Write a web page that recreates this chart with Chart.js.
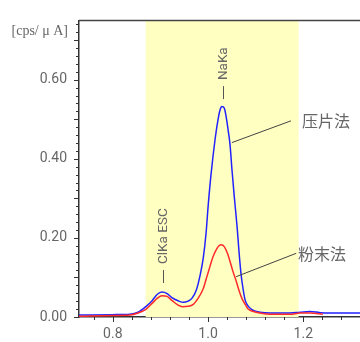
<!DOCTYPE html>
<html lang="ja">
<head>
<meta charset="UTF-8">
<title>NaKa spectrum</title>
<script src="https://cdn.jsdelivr.net/npm/chart.js@4"></script>
<style>
  html, body { margin: 0; padding: 0; background: #fff; }
  .chart-container { position: relative; width: 360px; height: 342px; }
</style>
</head>
<body>
<div class="chart-container"><canvas id="spectrumChart"></canvas></div>
<script>
// energy [keV] / intensity [cps/uA]
const pressedX = [0.729, 0.80, 0.836, 0.853, 0.870, 0.883, 0.893, 0.903, 0.914, 0.924, 0.937, 0.948,
  0.958, 0.966, 0.975, 0.983, 0.990, 0.996, 1.000, 1.006, 1.015, 1.021, 1.025, 1.029, 1.034, 1.038,
  1.042, 1.046, 1.050, 1.055, 1.061, 1.065, 1.069, 1.074, 1.078, 1.086, 1.094, 1.109, 1.130, 1.172,
  1.193, 1.214, 1.235, 1.256, 1.319];
const pressedY = [0.005, 0.006, 0.007, 0.012, 0.027, 0.042, 0.057, 0.063, 0.059, 0.049, 0.041, 0.037,
  0.040, 0.047, 0.067, 0.104, 0.150, 0.215, 0.278, 0.358, 0.452, 0.500, 0.523, 0.532, 0.528, 0.506,
  0.474, 0.437, 0.375, 0.305, 0.227, 0.165, 0.111, 0.067, 0.042, 0.025, 0.017, 0.012, 0.010, 0.010,
  0.012, 0.014, 0.011, 0.010, 0.010];

const powderX = [0.729, 0.80, 0.836, 0.853, 0.870, 0.883, 0.893, 0.903, 0.914, 0.924, 0.937, 0.946,
  0.958, 0.969, 0.979, 0.990, 0.998, 1.004, 1.010, 1.017, 1.023, 1.028, 1.034, 1.040, 1.046, 1.052,
  1.059, 1.065, 1.071, 1.078, 1.084, 1.092, 1.109, 1.130, 1.172, 1.193, 1.214, 1.241];
const powderY = [0.002, 0.004, 0.005, 0.010, 0.020, 0.035, 0.047, 0.054, 0.052, 0.042, 0.030, 0.026,
  0.027, 0.032, 0.047, 0.072, 0.104, 0.128, 0.151, 0.170, 0.180, 0.183, 0.178, 0.163, 0.141, 0.116,
  0.091, 0.067, 0.047, 0.032, 0.020, 0.015, 0.010, 0.007, 0.007, 0.010, 0.010, 0.007];

const seriesNames = ['压片法', '粉末法'];
const xTickValues = [0.8, 1.0, 1.2];
const yTickValues = [0, 0.2, 0.4, 0.6];
const bandRange = [0.869, 1.19];   // highlighted window
const peakNames = ['NaKa', 'ClKa ESC'];
const yUnit = '[cps/ μ A]';

// annotation placement (data coordinates)
const notes = {
  peaks: [{ x: 1.0315, y: 0.551 }, { x: 0.905, y: 0.086 }],
  callouts: [
    { from: { x: 1.050, y: 0.441 }, to: { x: 1.174, y: 0.496 }, text: { x: 1.197, y: 0.496 } },
    { from: { x: 1.059, y: 0.102 }, to: { x: 1.185, y: 0.161 }, text: { x: 1.189, y: 0.159 } }
  ]
};

const toPoints = (xs, ys) => xs.map((x, i) => ({ x: x, y: ys[i] }));

const bandPlugin = {
  id: 'band',
  beforeDatasetsDraw(chart) {
    const { ctx, chartArea, scales: { x } } = chart;
    const x0 = x.getPixelForValue(bandRange[0]);
    const x1 = x.getPixelForValue(bandRange[1]);
    ctx.save();
    ctx.fillStyle = '#ffffc2';
    ctx.fillRect(x0, chartArea.top, x1 - x0, chartArea.bottom - chartArea.top);
    ctx.restore();
  }
};

const decorPlugin = {
  id: 'decor',
  afterDraw(chart) {
    const { ctx, chartArea, scales: { x, y } } = chart;
    ctx.save();
    ctx.strokeStyle = '#333';
    ctx.lineWidth = 1;
    // minor / major tick marks
    for (let i = 0; i <= 37; i++) {
      const py = Math.round(y.getPixelForValue(i * 0.02)) + 0.5;
      const len = i % 5 === 0 ? 5 : 3;
      ctx.beginPath();
      ctx.moveTo(chartArea.left - len, py);
      ctx.lineTo(chartArea.left, py);
      ctx.stroke();
    }
    for (let i = 18; i <= 33; i++) {
      const v = i * 0.04;
      if (v < x.min || v > x.max) continue;
      const px = Math.round(x.getPixelForValue(v)) + 0.5;
      const len = i % 5 === 0 ? 5 : 3;
      ctx.beginPath();
      ctx.moveTo(px, chartArea.bottom);
      ctx.lineTo(px, chartArea.bottom + len);
      ctx.stroke();
    }
    // top frame line
    ctx.strokeStyle = '#444';
    ctx.lineWidth = 1.5;
    ctx.beginPath();
    ctx.moveTo(chartArea.left, chartArea.top);
    ctx.lineTo(chartArea.right, chartArea.top);
    ctx.stroke();

    // unit label
    ctx.fillStyle = '#666';
    ctx.font = '14px "Liberation Serif"';
    ctx.textAlign = 'right';
    ctx.textBaseline = 'middle';
    ctx.fillText(yUnit, chartArea.left - 11, chartArea.top + 11);

    // peak labels, rotated, with a leader dash
    ctx.font = '13.5px Roboto';
    ctx.textAlign = 'left';
    ctx.strokeStyle = '#555';
    ctx.lineWidth = 1;
    notes.peaks.forEach((p, i) => {
      ctx.save();
      ctx.translate(Math.round(x.getPixelForValue(p.x)) + 0.5, y.getPixelForValue(p.y));
      ctx.rotate(-Math.PI / 2);
      ctx.beginPath();
      ctx.moveTo(0, 0);
      ctx.lineTo(13, 0);
      ctx.stroke();
      ctx.fillText(peakNames[i], 19, 0.5);
      ctx.restore();
    });

    // callouts
    ctx.strokeStyle = '#444';
    ctx.lineWidth = 1;
    ctx.font = '16px "Noto Sans CJK SC"';
    notes.callouts.forEach((c, i) => {
      ctx.beginPath();
      ctx.moveTo(x.getPixelForValue(c.from.x), y.getPixelForValue(c.from.y));
      ctx.lineTo(x.getPixelForValue(c.to.x), y.getPixelForValue(c.to.y));
      ctx.stroke();
      ctx.fillText(seriesNames[i], x.getPixelForValue(c.text.x), y.getPixelForValue(c.text.y));
    });
    ctx.restore();
  }
};

const tickFont = { family: 'Roboto', size: 14 };

new Chart(document.getElementById('spectrumChart').getContext('2d'), {
  type: 'line',
  data: {
    datasets: [
      {
        label: seriesNames[1],
        data: toPoints(powderX, powderY),
        borderColor: '#ff2a2a',
        borderWidth: 1.5,
        pointRadius: 0,
        cubicInterpolationMode: 'monotone'
      },
      {
        label: seriesNames[0],
        data: toPoints(pressedX, pressedY),
        borderColor: '#2222ff',
        borderWidth: 1.5,
        pointRadius: 0,
        cubicInterpolationMode: 'monotone'
      }
    ]
  },
  options: {
    responsive: true,
    maintainAspectRatio: false,
    animation: false,
    devicePixelRatio: 1,
    layout: { padding: { top: 13, right: 0, left: 0, bottom: 0 } },
    plugins: { legend: { display: false }, tooltip: { enabled: false } },
    scales: {
      x: {
        type: 'linear',
        min: 0.729,
        max: 1.319,
        grid: { display: false, drawTicks: false },
        border: { display: true, color: '#333', width: 1.5 },
        afterBuildTicks: s => { s.ticks = xTickValues.map(v => ({ value: v })); },
        afterFit: s => { s.height = 25; },
        ticks: {
          color: '#666',
          font: tickFont,
          padding: 9,
          autoSkip: false,
          maxRotation: 0,
          callback: v => Number(v).toFixed(1)
        }
      },
      y: {
        type: 'linear',
        min: 0,
        max: 0.75,
        grid: { display: false, drawTicks: false },
        border: { display: true, color: '#333', width: 1.5 },
        afterBuildTicks: s => { s.ticks = yTickValues.map(v => ({ value: v })); },
        afterFit: s => { s.width = 79; },
        ticks: {
          color: '#666',
          font: tickFont,
          padding: 12,
          callback: v => Number(v).toFixed(2)
        }
      }
    }
  },
  plugins: [bandPlugin, decorPlugin]
});
</script>
</body>
</html>
